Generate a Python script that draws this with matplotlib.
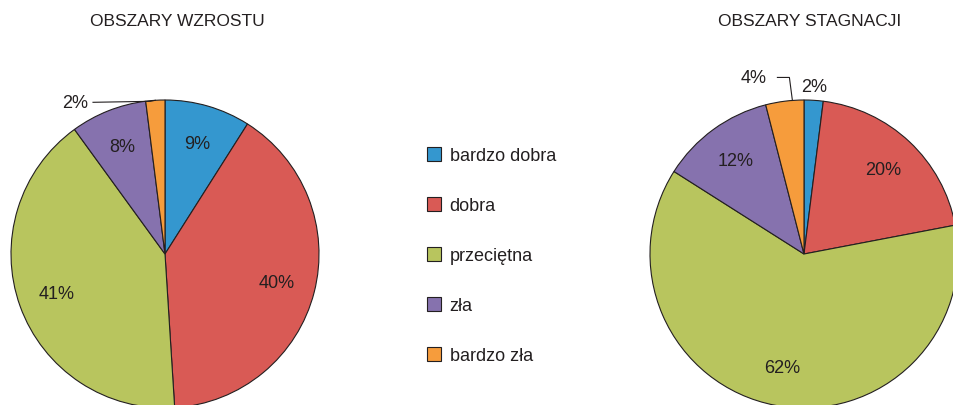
import math

import matplotlib
matplotlib.use("Agg")
import matplotlib.pyplot as plt

plt.rcParams["font.family"] = ["Liberation Sans", "DejaVu Sans"]

CATEGORIES = ["bardzo dobra", "dobra", "przeciętna", "zła", "bardzo zła"]
COLORS = ["#3497cf", "#d95a55", "#b8c55e", "#8672ae", "#f69c3c"]
GROWTH = [9, 40, 41, 8, 2]
STAGNATION = [2, 20, 62, 12, 4]
TITLES = ["OBSZARY WZROSTU", "OBSZARY STAGNACJI"]

TEXT = "#231f20"
W, H = 954, 406
R = 154
CY = H - 255


def draw_pie(ax, values, cx, title, title_x):
    wedges, _ = ax.pie(
        values, colors=COLORS, startangle=90, counterclock=False,
        center=(cx, CY), radius=R,
        wedgeprops=dict(edgecolor="#231f20", linewidth=0.8),
    )
    for w, v in zip(wedges, values):
        if v < 5:
            continue
        ang = math.radians((w.theta1 + w.theta2) / 2)
        ax.text(cx + 0.75 * R * math.cos(ang), CY + 0.75 * R * math.sin(ang),
                f"{v}%", ha="center", va="center", fontsize=13, color=TEXT)
    ax.text(title_x, H - 21, title, ha="center", va="center",
            fontsize=12.5, color=TEXT)
    return wedges


fig = plt.figure(figsize=(W / 100, H / 100), dpi=100)
ax = fig.add_axes([0, 0, 1, 1])

left = draw_pie(ax, GROWTH, 165, TITLES[0], 177)
right = draw_pie(ax, STAGNATION, 804, TITLES[1], 810)

# small slices: labels outside with leader lines
# left pie, 2% (bardzo zła)
w = left[4]
ang = math.radians((w.theta1 + w.theta2) / 2)
ex, ey = 165 + R * math.cos(ang), CY + R * math.sin(ang)
ax.plot([ex, ex - 5, 93], [ey, ey - 1, ey - 2], color=TEXT, lw=0.8)
ax.text(75, ey - 2, f"{GROWTH[4]}%", ha="center", va="center",
        fontsize=13, color=TEXT)

# right pie, 2% (bardzo dobra)
w = right[0]
ang = math.radians((w.theta1 + w.theta2) / 2)
ax.text(804 + 1.09 * R * math.cos(ang), CY + 1.09 * R * math.sin(ang),
        f"{STAGNATION[0]}%", ha="center", va="center", fontsize=13, color=TEXT)

# right pie, 4% (bardzo zła)
w = right[4]
ang = math.radians(w.theta1 + 0.3 * (w.theta2 - w.theta1))
ex, ey = 804 + R * math.cos(ang), CY + R * math.sin(ang)
ax.plot([ex, ex - 3, ex - 15], [ey, ey + 23, ey + 23], color=TEXT, lw=0.8)
ax.text(ex - 39, ey + 23, f"{STAGNATION[4]}%", ha="center", va="center",
        fontsize=13, color=TEXT)

leg = ax.legend(
    left, CATEGORIES, loc="upper left",
    bbox_to_anchor=(427 / W, 1 - 148 / H), frameon=False,
    fontsize=13, borderpad=0, borderaxespad=0,
    handlelength=0.8, handleheight=0.8, handletextpad=0.45,
    labelspacing=1.82,
)
for t in leg.get_texts():
    t.set_color(TEXT)

ax.set_xlim(0, W)
ax.set_ylim(0, H)
ax.set_aspect("equal")
ax.axis("off")

fig.savefig("out.png", dpi=100)
